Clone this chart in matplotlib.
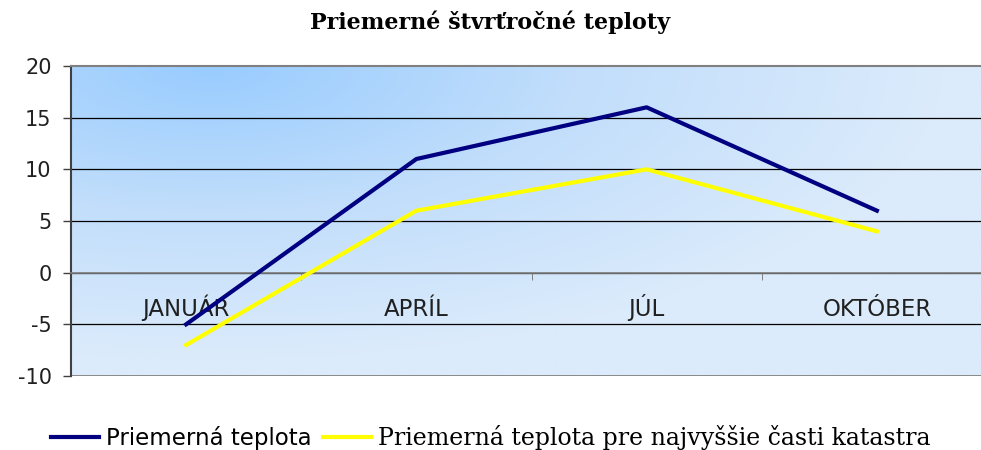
import numpy as np
import matplotlib.pyplot as plt
from matplotlib.colors import LinearSegmentedColormap

plt.rcParams['axes.unicode_minus'] = False

months = ['JANUÁR', 'APRÍL', 'JÚL', 'OKTÓBER']
avg_temp = [-5, 11, 16, 6]
avg_temp_high = [-7, 6, 10, 4]
series_names = ['Priemerná teplota', 'Priemerná teplota pre najvyššie časti katastra']

fig = plt.figure(figsize=(9.81, 4.5), dpi=100)
ax = fig.add_axes([71 / 981, 1 - 376 / 450, (992 - 71) / 981, (376 - 66) / 450])

x = np.arange(len(months))
n = len(months)

# background gradient, strongest blue near the top-left
u, v = np.meshgrid(np.linspace(0, 1, 400), np.linspace(0, 1, 200))
t = np.clip(np.sqrt(((u - 0.15) / 0.8) ** 2 + (v / 0.95) ** 2), 0, 1)
cmap = LinearSegmentedColormap.from_list('bg', ['#99ccff', '#c2defb', '#dbebfb'])
ax.imshow(t, cmap=cmap, extent=[-0.5, n - 0.5, -10, 20], aspect='auto',
          origin='upper', zorder=0, vmin=0, vmax=1)
ax.set_xlim(-0.5, n - 0.5)
ax.set_ylim(-10, 20)

for yv in range(-5, 20, 5):
    ax.axhline(yv, color='black', lw=0.9, zorder=1)

ax.plot(x, avg_temp, color='#000080', lw=3, label=series_names[0], zorder=3)
ax.plot(x, avg_temp_high, color='#ffff00', lw=3, label=series_names[1], zorder=3)

for s in ['top', 'right', 'bottom']:
    ax.spines[s].set_color('#808080')
ax.spines['top'].set_linewidth(1.5)
ax.spines['left'].set_color('#404040')
ax.spines['left'].set_linewidth(1.5)
ax.spines['bottom'].set_position(('data', 0))
ax.spines['bottom'].set_linewidth(1.2)
ax.axhline(-10, color='#808080', lw=2, zorder=2)

ax.set_yticks(range(-10, 21, 5))
ax.tick_params(axis='y', length=6, width=1, color='#404040', labelsize=15, pad=8,
               labelcolor='#202020')
ax.set_xticks(x)
ax.set_xticklabels(months)
for lab in ax.get_xticklabels():
    lab.set_verticalalignment('baseline')
ax.set_xticks(np.arange(-0.5, n), minor=True)
ax.tick_params(axis='x', which='major', length=0, labelsize=16.5, pad=31.5, labelcolor='#202020')
ax.tick_params(axis='x', which='minor', length=5, color='#707070')

fig.text(0.5, 0.95, 'Priemerné štvrťročné teploty', ha='center', va='center',
         family='DejaVu Serif', weight='bold', fontsize=16)

leg = fig.legend(loc='center', bbox_to_anchor=(0.5, 0.028), ncol=2, frameon=False,
                 prop={'family': 'DejaVu Sans', 'size': 16.5},
                 handlelength=2.1, handletextpad=0.3, columnspacing=0.5)
leg.get_texts()[1].set_family('DejaVu Serif')
leg.get_texts()[1].set_size(17)

fig.savefig('out.png', dpi=100)
